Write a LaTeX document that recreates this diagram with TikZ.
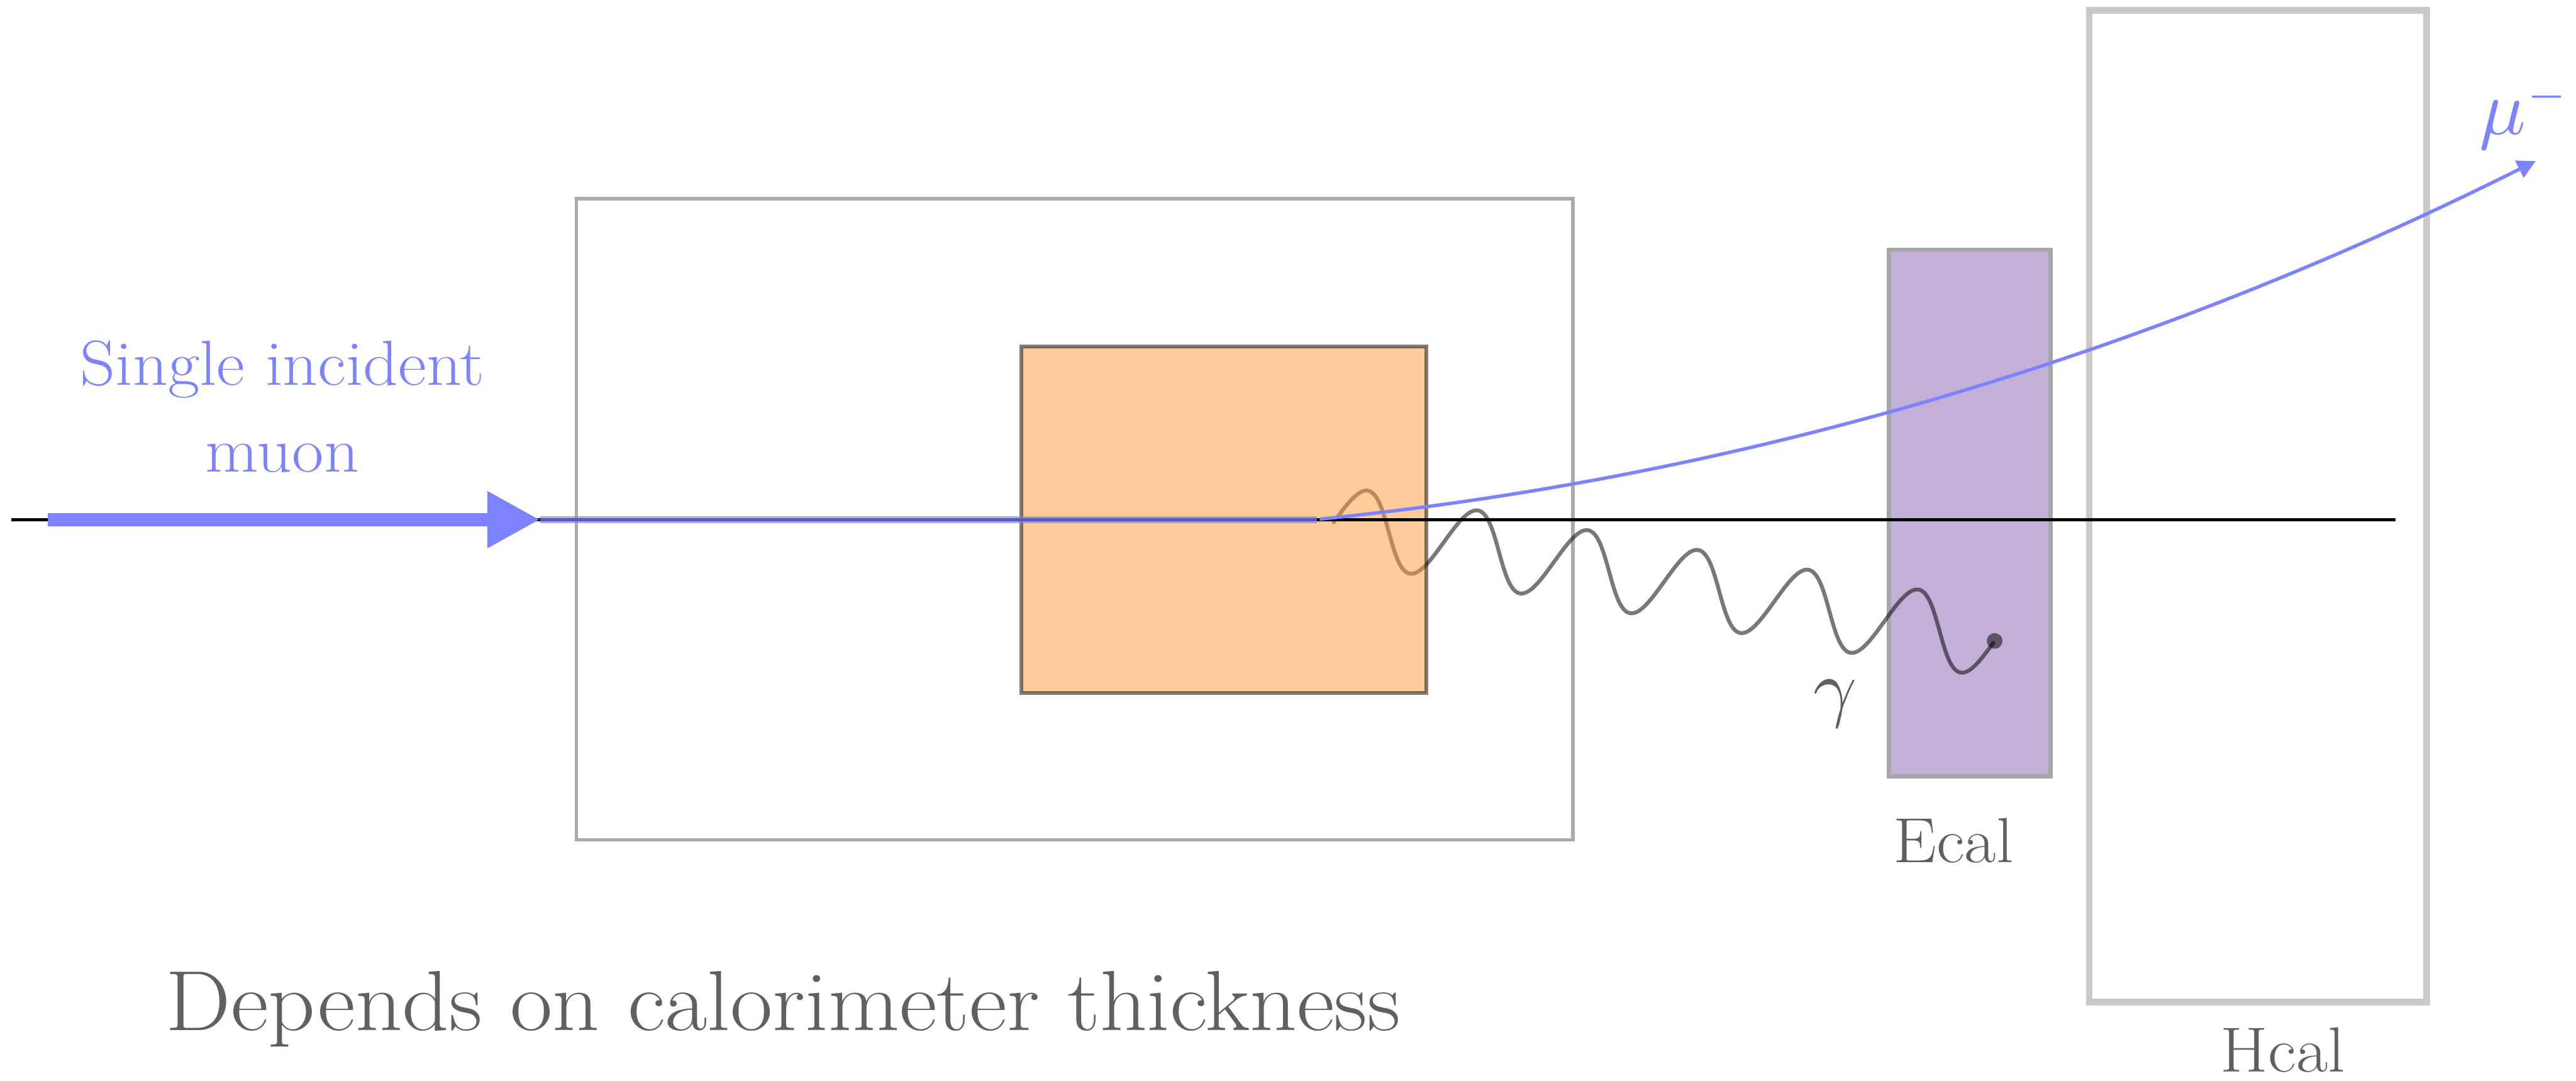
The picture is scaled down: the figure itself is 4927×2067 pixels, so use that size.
\documentclass[tikz,border=0pt]{standalone}
\usetikzlibrary{arrows.meta}
\definecolor{muonblue}{RGB}{125,131,255}
\definecolor{txtgray}{RGB}{96,96,96}
\definecolor{ecalfill}{RGB}{195,176,216}
\definecolor{ecaldraw}{RGB}{166,166,166}
\definecolor{hcaldraw}{RGB}{201,201,201}
\definecolor{orangefill}{RGB}{255,153,51}
\newcommand{\widetxt}[1]{\scalebox{1.08}[1]{#1}}
\newcommand{\bigmath}[2]{\scalebox{#1}{$#2$}}
\begin{document}
\begin{tikzpicture}[x=0.01cm, y=-0.01cm,
  box/.style={rectangle, inner sep=0pt, outer sep=0pt},
  lbl/.style={inner sep=0pt, outer sep=0pt, text=txtgray, font=\fontsize{34.7pt}{41pt}\selectfont},
  biglbl/.style={inner sep=0pt, outer sep=0pt, text=txtgray, font=\fontsize{46.4pt}{55pt}\selectfont},
  mathlbl/.style={inner sep=0pt, outer sep=0pt, font=\fontsize{10pt}{12pt}\selectfont},
  bluelbl/.style={inner sep=0pt, outer sep=0pt, text=muonblue, font=\fontsize{34.7pt}{41pt}\selectfont},
  wave/.style={draw=black, draw opacity=0.53, line width=2.1pt, line cap=round, line join=round},
  axisline/.style={draw=black, line width=1.56pt},
  muonline/.style={draw=muonblue, line width=1.85pt, -{Triangle[length=10pt,width=10pt]}},
]
\useasboundingbox (0,0) rectangle (4927,2067);
% boxes
\node[box, draw=black, draw opacity=0.33, line width=2pt, minimum width=19.05cm, minimum height=12.26cm] (outer) at (2055.5,993) {};
\node[box, draw=ecaldraw, fill=ecalfill, line width=2.3pt, minimum width=3.09cm, minimum height=10.07cm] (ecal) at (3767.5,981.5) {};
\node[box, draw=hcaldraw, line width=3.7pt, minimum width=6.45cm, minimum height=18.955cm] (hcal) at (4318.5,968) {};
% photon
\coordinate (wstart) at (2551,999);
\coordinate (wend) at (3815,1226);
\draw[wave] plot[domain=0:1, samples=400, smooth] ({2551+1264*\x+12.6*sin(2160*\x)}, {999+227*\x-69.9*sin(2160*\x)});
\fill[black, fill opacity=0.53] (wend) circle[radius=0.15cm];
% target
\node[box, fill=orangefill, fill opacity=0.5, draw=black, draw opacity=0.5, line width=2pt, minimum width=7.74cm, minimum height=6.62cm] (target) at (2341,994) {};
% beam axis
\coordinate (axl) at (22,994);
\coordinate (axr) at (4582,994);
\draw[axisline] (axl) -- (axr);
% incoming muon
\coordinate (astart) at (92,994);
\coordinate (atip) at (1033,994);
\coordinate (vtxb) at (2519,994);
\coordinate (vtx) at (2524,993);
\coordinate (mutip) at (4850,308);
\draw[muonblue, opacity=0.7, line width=3.7pt] (atip) -- (vtxb);
\draw[muonblue, line width=7.4pt, -{Triangle[length=28.7pt,width=29pt]}] (astart) -- (atip);
\draw[muonline] (vtx) .. controls (3321,913) and (4096,685) .. (mutip);
% labels
\node[bluelbl, anchor=base] (inc1) at (540,737) {\widetxt{Single incident}};
\node[bluelbl, anchor=base] (inc2) at (540,903) {\widetxt{muon}};
\node[biglbl, anchor=base] (dep) at (1498,1971) {\widetxt{Depends on calorimeter thickness}};
\node[lbl, anchor=base] (ecallbl) at (3736,1650) {\widetxt{Ecal}};
\node[lbl, anchor=base] (hcallbl) at (4366,2050) {\widetxt{Hcal}};
\node[mathlbl, text=txtgray, anchor=base west] (gam) at (3469,1364) {\bigmath{4.13}{\gamma}};
\node[mathlbl, text=muonblue, anchor=base west] (mu) at (4742,257) {\bigmath{4.2}{\mu^{\scriptscriptstyle -}}};
\end{tikzpicture}
\end{document}
